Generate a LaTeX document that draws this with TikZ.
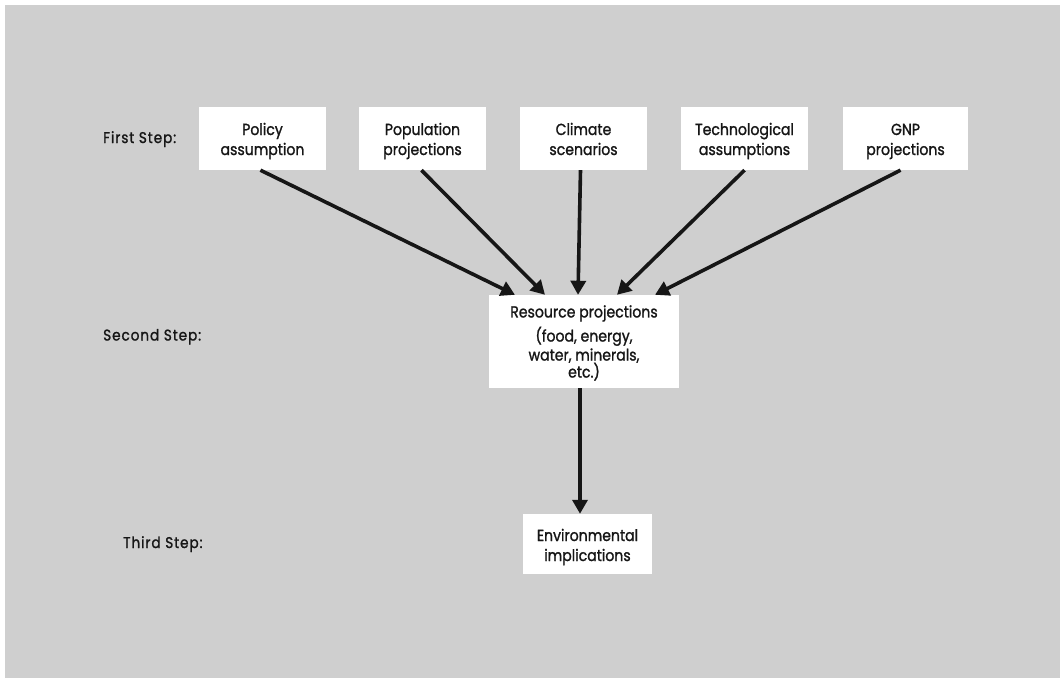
\documentclass[tikz,border=0pt]{standalone}
\usepackage{fontspec}
\setmainfont{Poppins}[FakeStretch=0.88,FakeBold=1.3]
\usetikzlibrary{arrows.meta}
\definecolor{bg}{RGB}{207,207,207}
\definecolor{ink}{RGB}{22,22,22}
\newcommand\topst[1]{\rule{0pt}{#1}}
\newcommand\botst{\rule[-4.5pt]{0pt}{4.5pt}}
\tikzset{
  box/.style={fill=white, draw=none, align=center, inner sep=0pt,
    minimum height=63pt, font=\fontsize{16}{20}\selectfont, text=ink},
  steplabel/.style={font=\fontsize{15.5}{18}\selectfont\addfontfeatures{LetterSpace=6}, text=ink, anchor=base west, inner sep=0pt},
  flow/.style={draw=ink, line width=3.6pt, -{Triangle[width=15pt,length=14pt]}, shorten >=0pt}
}
\begin{document}
\begin{tikzpicture}[x=1pt,y=-1pt]
\useasboundingbox (0,0) rectangle (1063,681);
\fill[white] (0,0) rectangle (1063,681);
\fill[bg] (5,5) rectangle (1060,678);

\node[box, minimum width=127pt] (pol) at (262.5,138.5) {\topst{17.5pt}Policy\\assumption\botst};
\node[box, minimum width=127pt] (pop) at (422.5,138.5) {\topst{17.5pt}Population\\projections\botst};
\node[box, minimum width=127pt] (cli) at (583.5,138.5) {\topst{17.5pt}Climate\\scenarios\botst};
\node[box, minimum width=127pt] (tec) at (744.5,138.5) {\topst{17.5pt}Technological\\assumptions\botst};
\node[box, minimum width=125pt] (gnp) at (905.5,138.5) {\topst{17.5pt}GNP\\projections\botst};

\node[box, minimum width=190pt, minimum height=93pt, font=\fontsize{16}{19}\selectfont] (res) at (584,341.5) {\topst{16.5pt}Resource projections\\[4pt](food, energy,\\water, minerals,\\[-2pt]etc.)\botst};

\node[box, minimum width=129pt, minimum height=60pt] (env) at (587.5,544) {\topst{18.5pt}Environmental\\implications\botst};

\node[steplabel] (s1) at (103,143) {First Step:};
\node[steplabel] (s2) at (103,340.5) {Second Step:};
\node[steplabel] (s3) at (123,548) {Third Step:};

\draw[flow] ([xshift=-2pt]pol.south) -- ([xshift=-69pt]res.north);
\draw[flow] ([xshift=-1pt]pop.south) -- ([xshift=-39pt]res.north);
\draw[flow] ([xshift=-3pt]cli.south) -- ([xshift=-6pt]res.north);
\draw[flow] ([xshift=0pt]tec.south) -- ([xshift=33pt]res.north);
\draw[flow] ([xshift=-5pt]gnp.south) -- ([xshift=71pt]res.north);
\draw[flow] ([xshift=-4pt]res.south) -- ([xshift=-7.5pt]env.north);
\end{tikzpicture}
\end{document}
